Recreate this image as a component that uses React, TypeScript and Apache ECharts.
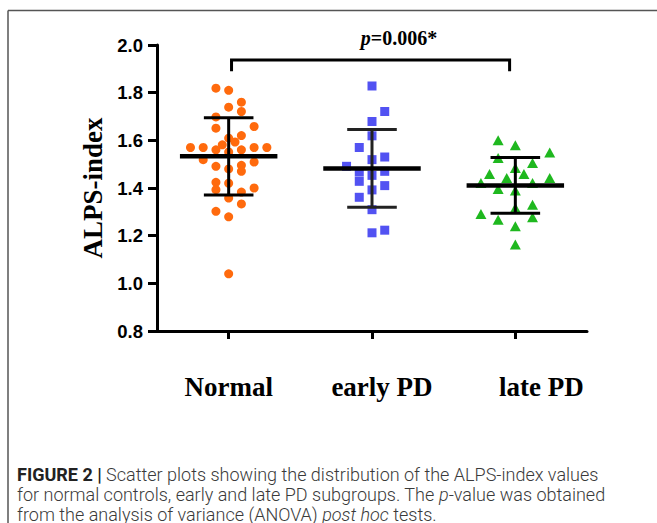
import React, { useEffect, useRef } from "react";
import * as echarts from "echarts";

// ---- data ----
const groups = ["Normal", "early PD", "late PD"];

// jitter column slot (integer-ish) and ALPS-index value for each subject
const normalSlots = [-1, 0, 1, 0, 1, -1, 2, -1, 1, 0, 0.5, -0.5, -3, -2, -1, 1, 2, 3, 0, -2, 2, -1, 0, 1, 1, -1, 0, -1, 1, 2, 0, 1, -1, 0, 0];
const normalValues = [1.819, 1.81, 1.76, 1.739, 1.721, 1.698, 1.658, 1.651, 1.62, 1.609, 1.593, 1.581, 1.57, 1.57, 1.56, 1.56, 1.57, 1.57, 1.551, 1.519, 1.509, 1.491, 1.48, 1.495, 1.47, 1.424, 1.42, 1.393, 1.383, 1.4, 1.358, 1.333, 1.302, 1.279, 1.04];

const earlySlots = [0, 1, 0, 0, -1, 1, 0, -2, -1, 0, 1, -1, 0, 1, -1, 0, 0, 1];
const earlyValues = [1.828, 1.721, 1.679, 1.619, 1.57, 1.53, 1.519, 1.491, 1.467, 1.453, 1.47, 1.428, 1.392, 1.41, 1.361, 1.309, 1.212, 1.223];

const lateSlots = [-2, 0, 4, -2, 2, 0, -3, 1, -1, -4, 2, 4, -2, 0, 2, 0, -4, -2, 2, 0, 0];
const lateValues = [1.6, 1.579, 1.549, 1.526, 1.505, 1.484, 1.459, 1.459, 1.442, 1.421, 1.421, 1.442, 1.396, 1.389, 1.33, 1.316, 1.291, 1.267, 1.277, 1.239, 1.163];

const groupMeans = [1.533, 1.482, 1.411];
const groupSDs = [0.162, 0.163, 0.117];

const yTickMin = 0.8;
const yTickMax = 2.0;
const yTickStep = 0.2;

const pText = "=0.006*";
const bracketX = [0.02, 1.96];
const bracketY = [1.937, 1.89];

const captionLines = [
  ["FIGURE 2 |", " Scatter plots showing the distribution of the ALPS-index values"],
  ["for normal controls, early and late PD subgroups. The ", "p", "-value was obtained"],
  ["from the analysis of variance (ANOVA) ", "post hoc", " tests."],
];

export default function App() {
  const ref = useRef<HTMLDivElement>(null);
  useEffect(() => {
    if (!ref.current) return;
    const chart = echarts.init(ref.current, undefined, { renderer: "svg" });
    const jitter = [0.0888, 0.0888, 0.06];
    const mk = (slots: number[], vals: number[], gi: number) =>
      vals.map((v, i) => [gi + slots[i] * jitter[gi], v]);

    const serif = "Liberation Serif";
    const capFont = "Roboto";
    const capSize = 18;

    const option: any = {
      animation: false,
      backgroundColor: "#fff",
      grid: { left: 157, top: 45, right: 70, bottom: 192, containLabel: false },
      xAxis: [
        {
          type: "category",
          data: groups,
          boundaryGap: true,
          axisLine: { show: true, onZero: false, lineStyle: { color: "#000", width: 3 } },
          axisTick: { show: true, alignWithLabel: true, length: 8, lineStyle: { color: "#000", width: 3 } },
          splitLine: { show: false },
          axisLabel: {
            margin: 42,
            interval: 0,
            formatter: (v: string, i: number) => (i === 0 ? `{n|${v}}` : i === 1 ? `{e|${v}}` : `{l|${v}}`),
            rich: {
              n: { fontFamily: serif, fontWeight: "bold", fontSize: 27, color: "#000" },
              e: { fontFamily: serif, fontWeight: "bold", fontSize: 27, color: "#000", padding: [0, 0, 0, 20] },
              l: { fontFamily: serif, fontWeight: "bold", fontSize: 27, color: "#000", padding: [0, 0, 0, 52] },
            },
          },
        },
        { type: "value", min: -0.5, max: 2.5, show: false },
      ],
      yAxis: {
        type: "value",
        min: yTickMin,
        max: yTickMax,
        interval: yTickStep,
        axisLine: { show: true, onZero: false, lineStyle: { color: "#000", width: 3 } },
        axisTick: { show: true, length: 9, lineStyle: { color: "#000", width: 3 } },
        splitLine: { show: false },
        axisLabel: {
          formatter: (v: number) => v.toFixed(1),
          fontFamily: "Liberation Sans",
          fontWeight: "bold",
          fontSize: 18.5,
          color: "#000",
          margin: 14,
        },
        name: "ALPS-index",
        nameLocation: "middle",
        nameGap: 50,
        nameTextStyle: { fontFamily: serif, fontWeight: "bold", fontSize: 27, color: "#000" },
      },
      series: [
        {
          type: "scatter",
          xAxisIndex: 1,
          symbol: "circle",
          symbolSize: 9,
          itemStyle: { color: "#FF6A0D", opacity: 1 },
          data: mk(normalSlots, normalValues, 0),
          z: 2,
        },
        {
          type: "scatter",
          xAxisIndex: 1,
          symbol: "rect",
          symbolSize: 9,
          itemStyle: { color: "#5252F2", opacity: 1 },
          data: mk(earlySlots, earlyValues, 1),
          z: 2,
        },
        {
          type: "scatter",
          xAxisIndex: 1,
          symbol: "triangle",
          symbolSize: [11, 10],
          itemStyle: { color: "#1FB81F", opacity: 1 },
          data: mk(lateSlots, lateValues, 2),
          z: 2,
        },
        {
          type: "custom",
          xAxisIndex: 1,
          z: 5,
          data: groupMeans.map((m, i) => [i, m, groupSDs[i]]),
          renderItem: (params: any, api: any) => {
            const x = api.value(0);
            const m = api.value(1);
            const sd = api.value(2);
            const c = api.coord([x, m]);
            const hi = api.coord([x, m + sd]);
            const lo = api.coord([x, m - sd]);
            const hm = api.size([0.34, 0])[0];
            const hc = api.size([0.173, 0])[0];
            const col = params.dataIndex === 1 ? "#222" : "#000";
            return {
              type: "group",
              children: [
                { type: "line", shape: { x1: hi[0], y1: hi[1], x2: lo[0], y2: lo[1] }, style: { stroke: col, lineWidth: 3 } },
                { type: "line", shape: { x1: hi[0] - hc, y1: hi[1], x2: hi[0] + hc, y2: hi[1] }, style: { stroke: col, lineWidth: 3 } },
                { type: "line", shape: { x1: lo[0] - hc, y1: lo[1], x2: lo[0] + hc, y2: lo[1] }, style: { stroke: col, lineWidth: 3 } },
                { type: "line", shape: { x1: c[0] - hm, y1: c[1], x2: c[0] + hm, y2: c[1] }, style: { stroke: "#000", lineWidth: 4.5 } },
              ],
            };
          },
        },
        {
          type: "custom",
          xAxisIndex: 1,
          z: 5,
          clip: false,
          data: [[bracketX[0], bracketX[1], bracketY[0], bracketY[1]]],
          renderItem: (params: any, api: any) => {
            const a = api.coord([api.value(0), api.value(2)]);
            const b = api.coord([api.value(1), api.value(2)]);
            const a2 = api.coord([api.value(0), api.value(3)]);
            const b2 = api.coord([api.value(1), api.value(3)]);
            return {
              type: "polyline",
              shape: { points: [a2, a, b, b2] },
              style: { stroke: "#000", lineWidth: 3, fill: "none" },
            };
          },
        },
      ],
      graphic: [
        { type: "line", shape: { x1: 8, y1: 10.5, x2: 657, y2: 10.5 }, style: { stroke: "#555", lineWidth: 1.5 } },
        { type: "line", shape: { x1: 8, y1: 10.5, x2: 8, y2: 523 }, style: { stroke: "#555", lineWidth: 1.5 } },
        {
          type: "text",
          x: 399,
          y: 38,
          style: {
            text: `{i|p}{b|${pText}}`,
            textAlign: "center",
            textVerticalAlign: "middle",
            rich: {
              i: { fontFamily: serif, fontStyle: "italic", fontWeight: "bold", fontSize: 20, fill: "#000" },
              b: { fontFamily: serif, fontWeight: "bold", fontSize: 20, fill: "#000" },
            },
          },
        },
        {
          type: "text",
          x: 17,
          y: 474,
          style: {
            text: `{b|${captionLines[0][0]}}{r|${captionLines[0][1]}}`,
            textVerticalAlign: "middle",
            rich: {
              b: { fontFamily: capFont, fontWeight: "bold", fontSize: capSize, fill: "#222" },
              r: { fontFamily: capFont, fontWeight: 300, fontSize: capSize, fill: "#3a3a3a" },
            },
          },
        },
        {
          type: "text",
          x: 17,
          y: 494,
          style: {
            text: `{r|${captionLines[1][0]}}{i|${captionLines[1][1]}}{r|${captionLines[1][2]}}`,
            textVerticalAlign: "middle",
            rich: {
              i: { fontFamily: capFont, fontStyle: "italic", fontWeight: 300, fontSize: capSize, fill: "#3a3a3a" },
              r: { fontFamily: capFont, fontWeight: 300, fontSize: capSize, fill: "#3a3a3a" },
            },
          },
        },
        {
          type: "text",
          x: 17,
          y: 514,
          style: {
            text: `{r|${captionLines[2][0]}}{i|${captionLines[2][1]}}{r|${captionLines[2][2]}}`,
            textVerticalAlign: "middle",
            rich: {
              i: { fontFamily: capFont, fontStyle: "italic", fontWeight: 300, fontSize: capSize, fill: "#3a3a3a" },
              r: { fontFamily: capFont, fontWeight: 300, fontSize: capSize, fill: "#3a3a3a" },
            },
          },
        },
      ],
    };
    chart.setOption(option);
    return () => chart.dispose();
  }, []);
  return (
    <div
      ref={ref}
      style={{ position: "absolute", left: 0, top: 0, width: 657, height: 523, background: "#fff" }}
    />
  );
}
